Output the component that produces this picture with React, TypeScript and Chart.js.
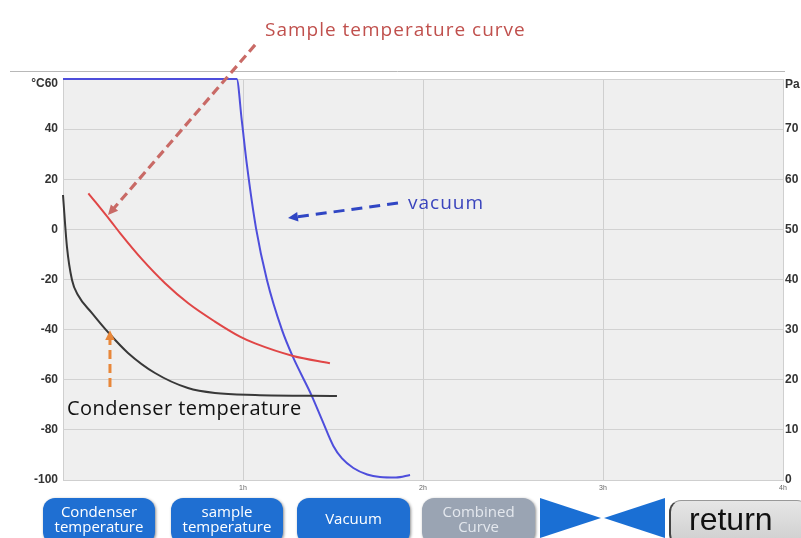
import React, { useEffect, useRef } from "react";
import { Chart, registerables } from "chart.js";

Chart.register(...registerables);

// ---- data ----
const hourTicks = [0, 1, 2, 3, 4];
const hourLabels = ["", "1h", "2h", "3h", "4h"];
const tempTopLabel = "°C60";
const pressureTopLabel = "Pa";

const condenserHours = [0, 0.022, 0.05, 0.083, 0.161, 0.25, 0.361, 0.511, 0.694, 0.844, 1.067, 1.522];
const condenserTemp = [13.7, -7, -20.2, -26.2, -33.4, -41, -49.3, -57.3, -63.3, -65.3, -66.1, -66.5];

const sampleHours = [0.141, 0.261, 0.326, 0.437, 0.567, 0.696, 0.844, 0.983, 1.067, 1.278, 1.483];
const sampleTemp = [14.4, 3.7, -2.3, -11.8, -21.5, -29.5, -36.8, -42.8, -45.5, -50.5, -53.4];

const vacuumHours = [0, 0.965, 0.993, 1.022, 1.072, 1.133, 1.217, 1.278, 1.382, 1.439, 1.502, 1.55, 1.613, 1.69, 1.761, 1.85, 1.928];
const vacuumPa = [80, 80, 71.8, 62.8, 50.3, 39.9, 29.9, 24.5, 16.8, 12.0, 6.8, 4.3, 2.4, 1.1, 0.6, 0.5, 1.0];

// annotation arrows (data coordinates: hours, °C)
const arrowStartHours = [1.067, 1.861, 0.261];
const arrowStartTemp = [73.6, 10.5, -62.9];
const arrowEndHours = [0.25, 1.25, 0.261];
const arrowEndTemp = [5.7, 4.5, -40.2];

const arrowStyles = [
  { color: "#c96a66", width: 3.2, dash: [9, 5] },
  { color: "#3046c4", width: 3, dash: [11, 7] },
  { color: "#e8873a", width: 3, dash: [9, 5] },
];

const toPoints = (xs: number[], ys: number[]) => xs.map((x, i) => ({ x, y: ys[i] }));

const axisFont = { size: 12, weight: "bold" as const, family: "'Liberation Sans', Arial, sans-serif" };

const decorPlugin = {
  id: "decor",
  beforeDraw(chart: any) {
    const { ctx, chartArea: a } = chart;
    ctx.save();
    ctx.fillStyle = "#efefef";
    ctx.fillRect(a.left, a.top, a.right - a.left, a.bottom - a.top);
    ctx.strokeStyle = "#b8b8b8";
    ctx.lineWidth = 1;
    ctx.beginPath();
    ctx.moveTo(10, a.top - 7.5);
    ctx.lineTo(a.right + 2, a.top - 7.5);
    ctx.stroke();
    ctx.restore();
  },
  afterDatasetsDraw(chart: any) {
    const { ctx, chartArea: a } = chart;
    const xs = chart.scales.x;
    const ys = chart.scales.y;
    ctx.save();
    arrowStartHours.forEach((_, i) => {
      const st = arrowStyles[i];
      const x0 = xs.getPixelForValue(arrowStartHours[i]);
      const y0 = ys.getPixelForValue(arrowStartTemp[i]);
      const x1 = xs.getPixelForValue(arrowEndHours[i]);
      const y1 = ys.getPixelForValue(arrowEndTemp[i]);
      const ang = Math.atan2(y1 - y0, x1 - x0);
      const head = 11;
      const hx = x1 - Math.cos(ang) * head * 0.8;
      const hy = y1 - Math.sin(ang) * head * 0.8;
      ctx.strokeStyle = st.color;
      ctx.fillStyle = st.color;
      ctx.lineWidth = st.width;
      ctx.setLineDash(st.dash);
      ctx.beginPath();
      ctx.moveTo(x0, y0);
      ctx.lineTo(hx, hy);
      ctx.stroke();
      ctx.setLineDash([]);
      ctx.beginPath();
      ctx.moveTo(x1, y1);
      ctx.lineTo(x1 - Math.cos(ang - 0.45) * head, y1 - Math.sin(ang - 0.45) * head);
      ctx.lineTo(x1 - Math.cos(ang + 0.45) * head, y1 - Math.sin(ang + 0.45) * head);
      ctx.closePath();
      ctx.fill();
    });
    // top axis labels sit slightly below the top grid line
    ctx.fillStyle = "#333";
    ctx.font = "bold 12px 'Liberation Sans', Arial, sans-serif";
    ctx.textBaseline = "middle";
    ctx.textAlign = "right";
    ctx.fillText(tempTopLabel, a.left - 5, a.top + 5);
    ctx.textAlign = "left";
    ctx.fillText(pressureTopLabel, a.right + 2, a.top + 6);
    ctx.restore();
  },
};

function Btn(props: { left: number; width: number; bg: string; color: string; lines: string[] }) {
  return (
    <div
      style={{
        position: "absolute",
        left: props.left,
        top: 498,
        width: props.width,
        height: 46,
        borderRadius: 12,
        background: props.bg,
        color: props.color,
        boxShadow: "1px 1px 3px rgba(0,0,0,0.45)",
        display: "flex",
        flexDirection: "column",
        alignItems: "center",
        justifyContent: "flex-start",
        paddingTop: props.lines.length > 1 ? 6 : 13,
        boxSizing: "border-box",
        fontFamily: "'Open Sans', sans-serif",
        fontSize: 15,
        lineHeight: "15px",
      }}
    >
      {props.lines.map((l, i) => (
        <span key={i}>{l}</span>
      ))}
    </div>
  );
}

export default function App() {
  const ref = useRef<HTMLCanvasElement>(null);

  useEffect(() => {
    if (!ref.current) return;
    const chart = new Chart(ref.current, {
      type: "line",
      data: {
        datasets: [
          {
            label: "Condenser temperature",
            data: toPoints(condenserHours, condenserTemp),
            borderColor: "#383838",
            borderWidth: 2,
            yAxisID: "y",
            cubicInterpolationMode: "monotone",
            pointRadius: 0,
            clip: 4,
          },
          {
            label: "Sample temperature",
            data: toPoints(sampleHours, sampleTemp),
            borderColor: "#e04646",
            borderWidth: 2,
            yAxisID: "y",
            cubicInterpolationMode: "monotone",
            pointRadius: 0,
            clip: 4,
          },
          {
            label: "Vacuum",
            data: toPoints(vacuumHours, vacuumPa),
            borderColor: "#4e4edc",
            borderWidth: 2,
            yAxisID: "y2",
            cubicInterpolationMode: "monotone",
            pointRadius: 0,
            clip: 4,
          },
        ],
      },
      options: {
        animation: false,
        responsive: false,
        devicePixelRatio: 1,
        layout: { padding: { top: 79, left: 0, right: 0, bottom: 0 } },
        plugins: { legend: { display: false }, tooltip: { enabled: false } },
        scales: {
          x: {
            type: "linear",
            min: 0,
            max: 4,
            afterFit: (s: any) => {
              s.height = 58;
            },
            afterBuildTicks: (s: any) => {
              s.ticks = hourTicks.map((v) => ({ value: v }));
            },
            grid: { color: "#cfcfcf", drawTicks: false },
            border: { display: true, color: "#cfcfcf" },
            ticks: {
              padding: 4,
              maxRotation: 0,
              autoSkip: false,
              font: { size: 7, family: "'Liberation Sans', Arial, sans-serif" },
              color: "#666",
              callback: (v: any) => hourLabels[hourTicks.indexOf(Number(v))] ?? "",
            },
          },
          y: {
            position: "left",
            min: -100,
            max: 60,
            afterFit: (s: any) => {
              s.width = 63;
            },
            grid: { color: "#d2d2d2", drawTicks: false },
            border: { display: false },
            ticks: {
              stepSize: 20,
              padding: 5,
              font: axisFont,
              color: "#333",
              callback: (v: any) => (Number(v) === 60 ? "" : String(v)),
            },
          },
          y2: {
            position: "right",
            min: 0,
            max: 80,
            afterFit: (s: any) => {
              s.width = 18;
            },
            grid: { display: false, drawTicks: false },
            border: { display: false },
            ticks: {
              stepSize: 10,
              padding: 2,
              font: axisFont,
              color: "#333",
              callback: (v: any) => (Number(v) === 80 ? "" : String(v)),
            },
          },
        },
      } as any,
      plugins: [decorPlugin],
    });
    return () => chart.destroy();
  }, []);

  return (
    <div
      style={{
        position: "fixed",
        left: 0,
        top: 0,
        width: 801,
        height: 538,
        overflow: "hidden",
        background: "#fff",
      }}
    >
      <canvas ref={ref} width={801} height={538} style={{ display: "block", width: 801, height: 538 }} />
      <div
        style={{
          position: "absolute",
          left: 265,
          top: 16,
          fontFamily: "'Open Sans', sans-serif",
          fontSize: 19,
          letterSpacing: "1px",
          color: "#c0504d",
          whiteSpace: "nowrap",
        }}
      >
        Sample temperature curve
      </div>
      <div
        style={{
          position: "absolute",
          left: 408,
          top: 189,
          fontFamily: "'Open Sans', sans-serif",
          fontSize: 19,
          letterSpacing: "1px",
          color: "#3a44bd",
          whiteSpace: "nowrap",
        }}
      >
        vacuum
      </div>
      <div
        style={{
          position: "absolute",
          left: 67,
          top: 394,
          fontFamily: "'Open Sans', sans-serif",
          fontSize: 20,
          letterSpacing: "0.45px",
          color: "#111",
          whiteSpace: "nowrap",
        }}
      >
        Condenser temperature
      </div>
      <Btn left={43} width={112} bg="#1f6fd2" color="#fff" lines={["Condenser", "temperature"]} />
      <Btn left={171} width={112} bg="#1f6fd2" color="#fff" lines={["sample", "temperature"]} />
      <Btn left={297} width={113} bg="#1f6fd2" color="#fff" lines={["Vacuum"]} />
      <Btn left={422} width={113} bg="#9aa4b3" color="#e4e8ee" lines={["Combined", "Curve"]} />
      <svg style={{ position: "absolute", left: 0, top: 0 }} width={801} height={538}>
        <polygon points="540,498 540,538 601,518" fill="#1a6fd4" />
        <polygon points="665,498 665,538 604,518" fill="#1a6fd4" />
      </svg>
      <div
        style={{
          position: "absolute",
          left: 669,
          top: 500,
          width: 140,
          height: 46,
          borderRadius: 12,
          borderLeft: "2px solid #444",
          borderTop: "1px solid #999",
          background: "linear-gradient(#e6e6e6, #cdcdcd)",
          boxSizing: "border-box",
          fontFamily: "'Liberation Sans', Arial, sans-serif",
          fontSize: 32,
          lineHeight: "36px",
          paddingLeft: 18,
          color: "#111",
        }}
      >
        return
      </div>
    </div>
  );
}
